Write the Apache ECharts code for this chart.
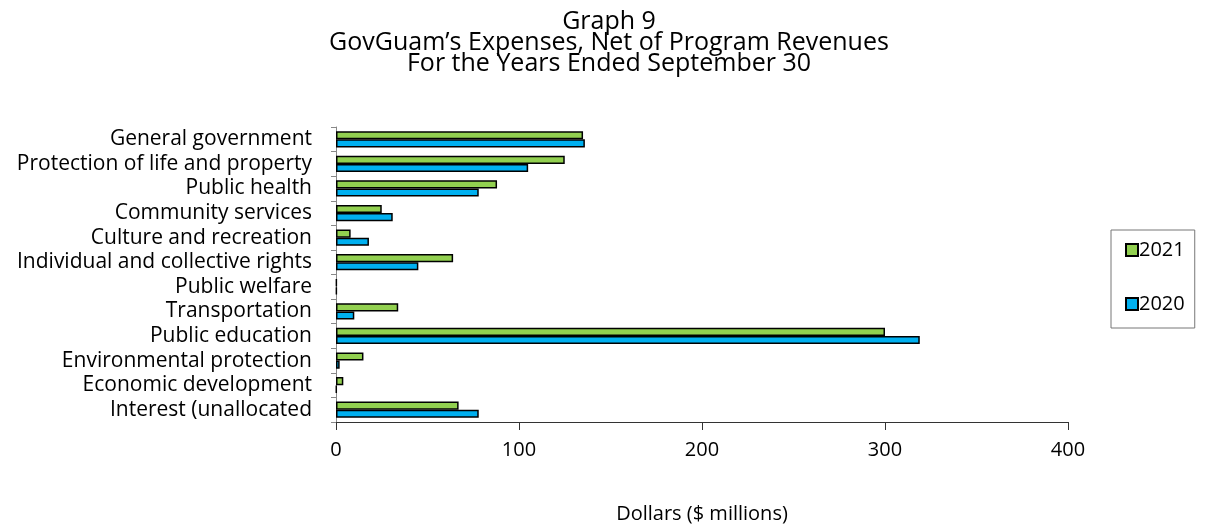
<!DOCTYPE html>
<html>
<head>
<meta charset="utf-8">
<script src="https://cdn.jsdelivr.net/npm/echarts@6/dist/echarts.min.js"></script>
<style>
	html, body { margin: 0; padding: 0; background: #fff; }
	#chart { width: 1211px; height: 529px; }
</style>
</head>
<body>
<div id="chart"></div>
<script>
// categories, top to bottom
var categories = [
	'General government',
	'Protection of life and property',
	'Public health',
	'Community services',
	'Culture and recreation',
	'Individual and collective rights',
	'Public welfare',
	'Transportation',
	'Public education',
	'Environmental protection',
	'Economic development',
	'Interest (unallocated'
];
// $ millions
var values2021 = [135, 125, 88, 25, 8, 64, 0.4, 34, 300, 15, 4, 67];
var values2020 = [136, 105, 78, 31, 18, 45, 0.4, 10, 319, 2, 0.3, 78];
var xTicks = [0, 100, 200, 300, 400];

var font = '"Open Sans", sans-serif';

var chart = echarts.init(document.getElementById('chart'));
chart.setOption({
	animation: false,
	backgroundColor: '#fff',
	title: {
		text: 'Graph 9\nGovGuam\u2019s Expenses, Net of Program Revenues\nFor the Years Ended September 30',
		left: 604,
		top: 6,
		textAlign: 'center',
		textStyle: {
			fontFamily: font,
			fontSize: 25,
			fontWeight: 'normal',
			color: '#000',
			lineHeight: 21
		}
	},
	legend: {
		orient: 'vertical',
		left: 1111,
		top: 230,
		width: 83,
		height: 93,
		padding: [10, 10, 14, 14],
		itemGap: 34,
		itemWidth: 12,
		itemHeight: 12,
		icon: 'rect',
		borderColor: '#777',
		borderWidth: 1,
		data: ['2021', '2020'],
		textStyle: { fontFamily: font, fontSize: 20, color: '#000', padding: [0, 0, 0, -4] }
	},
	grid: {
		left: 336,
		right: 1211 - 1068,
		top: 127,
		bottom: 529 - 425,
		containLabel: false
	},
	xAxis: {
		type: 'value',
		min: xTicks[0],
		max: xTicks[xTicks.length - 1],
		interval: 100,
		name: 'Dollars ($ millions)',
		nameLocation: 'middle',
		nameGap: 82,
		nameTextStyle: { fontFamily: font, fontSize: 20, color: '#000' },
		axisLine: { show: true, lineStyle: { color: '#333', width: 1 } },
		axisTick: { show: true, length: 8, lineStyle: { color: '#333' } },
		axisLabel: { fontFamily: font, fontSize: 20, color: '#000', margin: 18 },
		splitLine: { show: false }
	},
	yAxis: {
		type: 'category',
		inverse: true,
		data: categories,
		axisLine: { show: true, lineStyle: { color: '#888', width: 1 } },
		axisTick: { show: true, length: 5, interval: 0, lineStyle: { color: '#888' } },
		axisLabel: { fontFamily: font, fontSize: 21, color: '#000', margin: 24, interval: 0 }
	},
	series: [
		{
			name: '2021',
			type: 'bar',
			data: values2021,
			barGap: '0%',
			barCategoryGap: '34%',
			itemStyle: { color: '#92D050', borderColor: '#000', borderWidth: 1.5 }
		},
		{
			name: '2020',
			type: 'bar',
			data: values2020,
			itemStyle: { color: '#00B0F0', borderColor: '#000', borderWidth: 1.5 }
		}
	]
});
</script>
</body>
</html>
